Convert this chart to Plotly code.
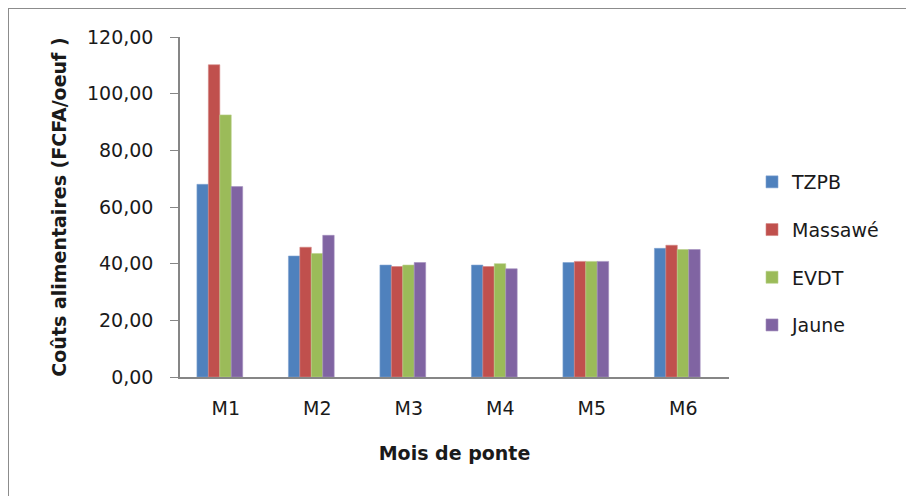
import plotly.graph_objects as go

categories = ["M1", "M2", "M3", "M4", "M5", "M6"]
series_names = ["TZPB", "Massawé", "EVDT", "Jaune"]
tzpb = [68.0, 42.7, 39.5, 39.5, 40.4, 45.4]
massawe = [110.2, 45.8, 39.0, 39.0, 40.8, 46.5]
evdt = [92.5, 43.6, 39.5, 40.0, 40.8, 45.0]
jaune = [67.2, 50.0, 40.4, 38.2, 40.8, 45.0]
y_ticks = [0, 20, 40, 60, 80, 100, 120]
y_tick_labels = ["0,00", "20,00", "40,00", "60,00", "80,00", "100,00", "120,00"]

colors = ["#4F81BD", "#C0504D", "#9BBB59", "#8064A2"]
edge = ["#7FA3D0", "#D48583", "#B8D08A", "#A38FBE"]
values = [tzpb, massawe, evdt, jaune]

FONT = "DejaVu Sans"
# page is offset by the 8px body margin of the html page
OFF = 8
W, H = 914 - OFF, 496 - OFF
L, T = 180 - OFF, 37 - OFF
R = W - (729 - OFF)
B = H - (377 - OFF)
pw, ph = W - L - R, H - T - B

bar_w = 0.125
group_start = -0.315

fig = go.Figure()
for i, (name, vals) in enumerate(zip(series_names, values)):
    fig.add_trace(go.Bar(
        x=categories, y=vals, name=name,
        marker=dict(color=colors[i], line=dict(color=edge[i], width=0.6)),
        width=bar_w, offset=group_start + i * bar_w,
        legendgroup=name,
    ))

def px_x(p):
    return (p - OFF - L) / pw

def px_y(p):
    return (H - B - (p - OFF)) / ph

fig.update_layout(
    width=W, height=H,
    margin=dict(l=L, r=R, t=T, b=B, autoexpand=False),
    paper_bgcolor="white", plot_bgcolor="white",
    font=dict(family=FONT, size=19, color="#1a1a1a"),
    barmode="overlay",
    showlegend=True,
    legend=dict(
        x=px_x(752), y=px_y(163), xanchor="left", yanchor="top",
        traceorder="grouped", tracegroupgap=20,
        font=dict(family=FONT, size=19, color="#1a1a1a"),
        bgcolor="rgba(0,0,0,0)",
    ),
    xaxis=dict(
        type="category", range=[-0.5, 5.5],
        showline=True, linecolor="#868686", linewidth=1.5,
        ticks="", showgrid=False, zeroline=False,
        ticklabelstandoff=13,
        tickfont=dict(family=FONT, size=19, color="#1a1a1a"),
        title=dict(text="<b>Mois de ponte</b>", standoff=29,
                   font=dict(family=FONT, size=19, color="#1a1a1a")),
    ),
    yaxis=dict(
        range=[0, 120], tickvals=y_ticks, ticktext=y_tick_labels,
        showline=True, linecolor="#868686", linewidth=1.5,
        ticks="outside", ticklen=8, tickcolor="#868686", tickwidth=1,
        showgrid=False, zeroline=False,
        ticklabelstandoff=13,
        tickfont=dict(family=FONT, size=19, color="#1a1a1a"),
        title=dict(text="<b>Coûts alimentaires (FCFA/oeuf )</b>", standoff=15,
                   font=dict(family=FONT, size=19, color="#1a1a1a")),
    ),
    shapes=[
        dict(type="line", xref="paper", yref="paper",
             x0=px_x(8), x1=px_x(930), y0=px_y(8), y1=px_y(8),
             line=dict(color="#8C8C8C", width=2)),
        dict(type="line", xref="paper", yref="paper",
             x0=px_x(8), x1=px_x(8), y0=px_y(8), y1=px_y(510),
             line=dict(color="#8C8C8C", width=2)),
    ],
)

fig.write_html("out.html")
